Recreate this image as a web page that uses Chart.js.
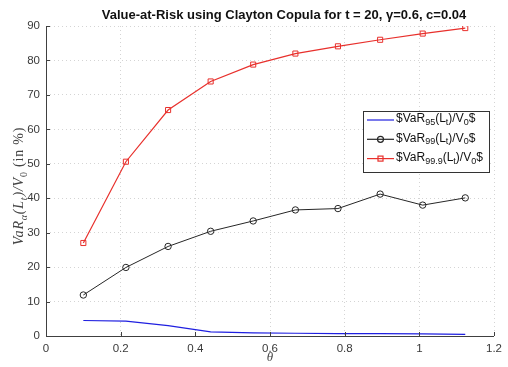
<!DOCTYPE html>
<html>
<head>
<meta charset="utf-8">
<script src="https://cdn.jsdelivr.net/npm/chart.js@4"></script>
<style>
  html, body { margin: 0; padding: 0; background: #fff; }
  #wrap { width: 508px; height: 367px; }
</style>
</head>
<body>
<div id="wrap"><canvas id="c" width="508" height="367"></canvas></div>
<script>
// data
const thetas = [0.1, 0.214, 0.327, 0.441, 0.555, 0.668, 0.782, 0.895, 1.009, 1.123]
const var95 = [4.5, 4.3, 3.0, 1.2, 0.9, 0.8, 0.7, 0.7, 0.6, 0.5]
const var99 = [11.9, 19.9, 26.0, 30.4, 33.4, 36.6, 37.0, 41.2, 38.0, 40.1]
const var999 = [27.0, 50.6, 65.6, 73.9, 78.8, 82.0, 84.1, 86.0, 87.8, 89.4]

const titleText = 'Value-at-Risk using Clayton Copula for t = 20, \u03b3=0.6, c=0.04'

const SANS = 'Helvetica, Arial, "Liberation Sans", sans-serif'
const SERIF = '"Liberation Serif", "DejaVu Serif", serif'

// legend entries: pieces of text with subscripts
const legendItems = [
  { color: '#1f1fe0', marker: null,     parts: [['$VaR'], ['95', 1], ['(L'], ['t', 1], [')/V'], ['0', 1], ['$']] },
  { color: '#262626', marker: 'circle', parts: [['$VaR'], ['99', 1], ['(L'], ['t', 1], [')/V'], ['0', 1], ['$']] },
  { color: '#e8302c', marker: 'rect',   parts: [['$VaR'], ['99.9', 1], ['(L'], ['t', 1], [')/V'], ['0', 1], ['$']] },
]

function toXY(ys) {
  return thetas.map((x, i) => ({ x, y: ys[i] }))
}

// draws a row of text pieces, subscripts smaller and lower
function drawRich(ctx, parts, x, y, size, family, italicFlags) {
  let cx = x
  parts.forEach((p, i) => {
    const sub = p[1]
    const it = italicFlags ? italicFlags[i] : false
    const fs = sub ? Math.round(size * 0.72) : size
    ctx.font = (it ? 'italic ' : '') + fs + 'px ' + family
    ctx.fillText(p[0], cx, sub ? y + size * 0.3 : y)
    cx += ctx.measureText(p[0]).width
  })
  return cx - x
}
function measureRich(ctx, parts, size, family, italicFlags) {
  let w = 0
  parts.forEach((p, i) => {
    const fs = p[1] ? Math.round(size * 0.72) : size
    ctx.font = ((italicFlags && italicFlags[i]) ? 'italic ' : '') + fs + 'px ' + family
    w += ctx.measureText(p[0]).width
  })
  return w
}

const decor = {
  id: 'decor',
  afterDraw(chart) {
    const ctx = chart.ctx
    const a = chart.chartArea
    const xs = chart.scales.x, ys = chart.scales.y
    ctx.save()

    // axis lines (left + bottom) and inward ticks
    ctx.strokeStyle = '#404040'
    ctx.lineWidth = 1
    ctx.beginPath()
    ctx.moveTo(a.left + 0.5, a.top)
    ctx.lineTo(a.left + 0.5, a.bottom + 0.5)
    ctx.lineTo(a.right, a.bottom + 0.5)
    xs.ticks.forEach(t => {
      const px = Math.round(xs.getPixelForValue(t.value)) + 0.5
      ctx.moveTo(px, a.bottom)
      ctx.lineTo(px, a.bottom - 4)
    })
    ys.ticks.forEach(t => {
      const py = Math.round(ys.getPixelForValue(t.value)) + 0.5
      ctx.moveTo(a.left, py)
      ctx.lineTo(a.left + 4, py)
    })
    ctx.stroke()

    // title
    ctx.fillStyle = '#111'
    ctx.font = 'bold 13px ' + SANS
    ctx.textAlign = 'center'
    ctx.textBaseline = 'alphabetic'
    ctx.fillText(titleText, 284, 19)

    // x label
    ctx.fillStyle = '#444'
    ctx.font = 'italic 13px ' + SERIF
    ctx.fillText('\u03b8', (a.left + a.right) / 2, 361)

    // y label, rotated
    const yParts = [['VaR'], ['\u03b1', 1], ['(L'], ['t', 1], [')/V'], ['0', 1], [' (in %)']]
    const yItal = [true, true, true, true, true, false, false]
    ctx.textAlign = 'left'
    ctx.letterSpacing = '0.8px'
    const w = measureRich(ctx, yParts, 14, SERIF, yItal)
    ctx.translate(23, 186)
    ctx.rotate(-Math.PI / 2)
    drawRich(ctx, yParts, -w / 2, 0, 14, SERIF, yItal)
    ctx.setTransform(1, 0, 0, 1, 0, 0)
    ctx.letterSpacing = '0px'

    // legend box
    const bx = 363, by = 111, bw = 126, bh = 61
    ctx.fillStyle = '#fff'
    ctx.fillRect(bx, by, bw, bh)
    ctx.strokeStyle = '#333'
    ctx.strokeRect(bx + 0.5, by + 0.5, bw, bh)
    legendItems.forEach((it, i) => {
      const ry = by + 9 + i * 19.3
      ctx.strokeStyle = it.color
      ctx.lineWidth = 1.2
      ctx.beginPath()
      ctx.moveTo(bx + 4, ry)
      ctx.lineTo(bx + 31, ry)
      ctx.stroke()
      if (it.marker === 'circle') {
        ctx.beginPath()
        ctx.arc(bx + 17.5, ry, 3, 0, Math.PI * 2)
        ctx.stroke()
      } else if (it.marker === 'rect') {
        ctx.strokeRect(bx + 15, ry - 2.5, 5, 5)
      }
      ctx.fillStyle = '#111'
      ctx.textBaseline = 'middle'
      drawRich(ctx, it.parts, bx + 33, ry - 1, 12, SANS)
    })
    ctx.restore()
  }
}

const gridOpts = {
  color: '#d4d4d4',
  lineWidth: 1,
  drawTicks: false,
}

new Chart(document.getElementById('c'), {
  type: 'scatter',
  data: {
    datasets: [
      {
        label: 'VaR95',
        data: toXY(var95),
        showLine: true,
        borderColor: '#1f1fe0',
        borderWidth: 1.2,
        pointRadius: 0,
        tension: 0,
      },
      {
        label: 'VaR99',
        data: toXY(var99),
        showLine: true,
        borderColor: '#262626',
        borderWidth: 1,
        pointStyle: 'circle',
        pointRadius: 3.2,
        pointBorderWidth: 1,
        pointBackgroundColor: 'rgba(0,0,0,0)',
        pointBorderColor: '#262626',
        tension: 0,
      },
      {
        label: 'VaR99.9',
        data: toXY(var999),
        showLine: true,
        borderColor: '#e8302c',
        borderWidth: 1.2,
        pointStyle: 'rect',
        pointRadius: 3.6,
        pointBorderWidth: 1,
        pointBackgroundColor: 'rgba(0,0,0,0)',
        pointBorderColor: '#e8302c',
        tension: 0,
      },
    ],
  },
  options: {
    responsive: false,
    animation: false,
    devicePixelRatio: 1,
    layout: { padding: { top: 26, right: 12, left: 0, bottom: 0 } },
    plugins: {
      legend: { display: false },
      title: { display: false },
      tooltip: { enabled: false },
    },
    scales: {
      x: {
        type: 'linear',
        min: 0,
        max: 1.2,
        ticks: {
          stepSize: 0.2,
          padding: 6,
          color: '#3a3a3a',
          font: { family: SANS, size: 11.5 },
          callback: v => String(Number(v.toFixed(1))),
        },
        grid: gridOpts,
        border: { display: false, dash: [1, 3] },
        afterFit(s) { s.height = 31 },
      },
      y: {
        type: 'linear',
        min: 0,
        max: 90,
        ticks: {
          stepSize: 10,
          padding: 6,
          color: '#3a3a3a',
          font: { family: SANS, size: 11.5 },
        },
        grid: gridOpts,
        border: { display: false, dash: [1, 3] },
        afterFit(s) { s.width = 46 },
      },
    },
  },
  plugins: [decor],
})
</script>
</body>
</html>
